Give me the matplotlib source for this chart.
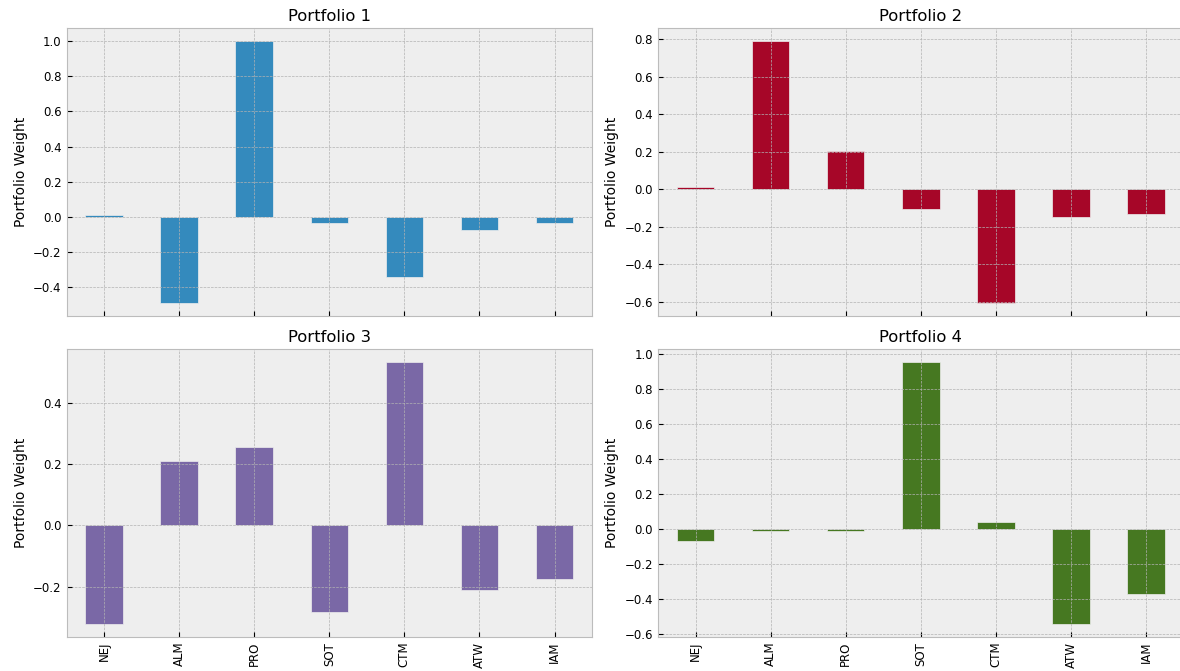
import matplotlib
matplotlib.use("Agg")
import matplotlib.pyplot as plt
import numpy as np

plt.style.use("bmh")

tickers = ["NEJ", "ALM", "PRO", "SOT", "CTM", "ATW", "IAM"]
titles = ["Portfolio 1", "Portfolio 2", "Portfolio 3", "Portfolio 4"]
portfolio_1 = [0.01, -0.49, 1.0, -0.034, -0.34, -0.077, -0.034]
portfolio_2 = [0.014, 0.79, 0.205, -0.105, -0.606, -0.15, -0.13]
portfolio_3 = [-0.322, 0.21, 0.257, -0.283, 0.533, -0.21, -0.175]
portfolio_4 = [-0.065, -0.01, -0.01, 0.956, 0.042, -0.541, -0.371]
colors = ["#348ABD", "#A60628", "#7A68A6", "#467821"]

fig, axes = plt.subplots(2, 2, figsize=(11.8, 6.71), dpi=100, sharex=True)
x = np.arange(len(tickers))
for ax, vals, title, c in zip(axes.flat, [portfolio_1, portfolio_2, portfolio_3, portfolio_4], titles, colors):
    ax.bar(x, vals, width=0.5, color=c, edgecolor="#eeeeee", linewidth=0.5)
    ax.set_title(title, fontsize=11.8, pad=5)
    ax.set_ylabel("Portfolio Weight", fontsize=10)
    ax.set_xlim(-0.5, len(tickers) - 0.5)
    ax.set_xticks(x)
    ax.set_xticklabels(tickers, rotation=90)
    ax.tick_params(labelsize=8.5)
fig.subplots_adjust(left=0.0564, right=1.003, top=0.9583, bottom=0.0507,
                    wspace=0.1256, hspace=0.1146)
fig.savefig("out.png")
